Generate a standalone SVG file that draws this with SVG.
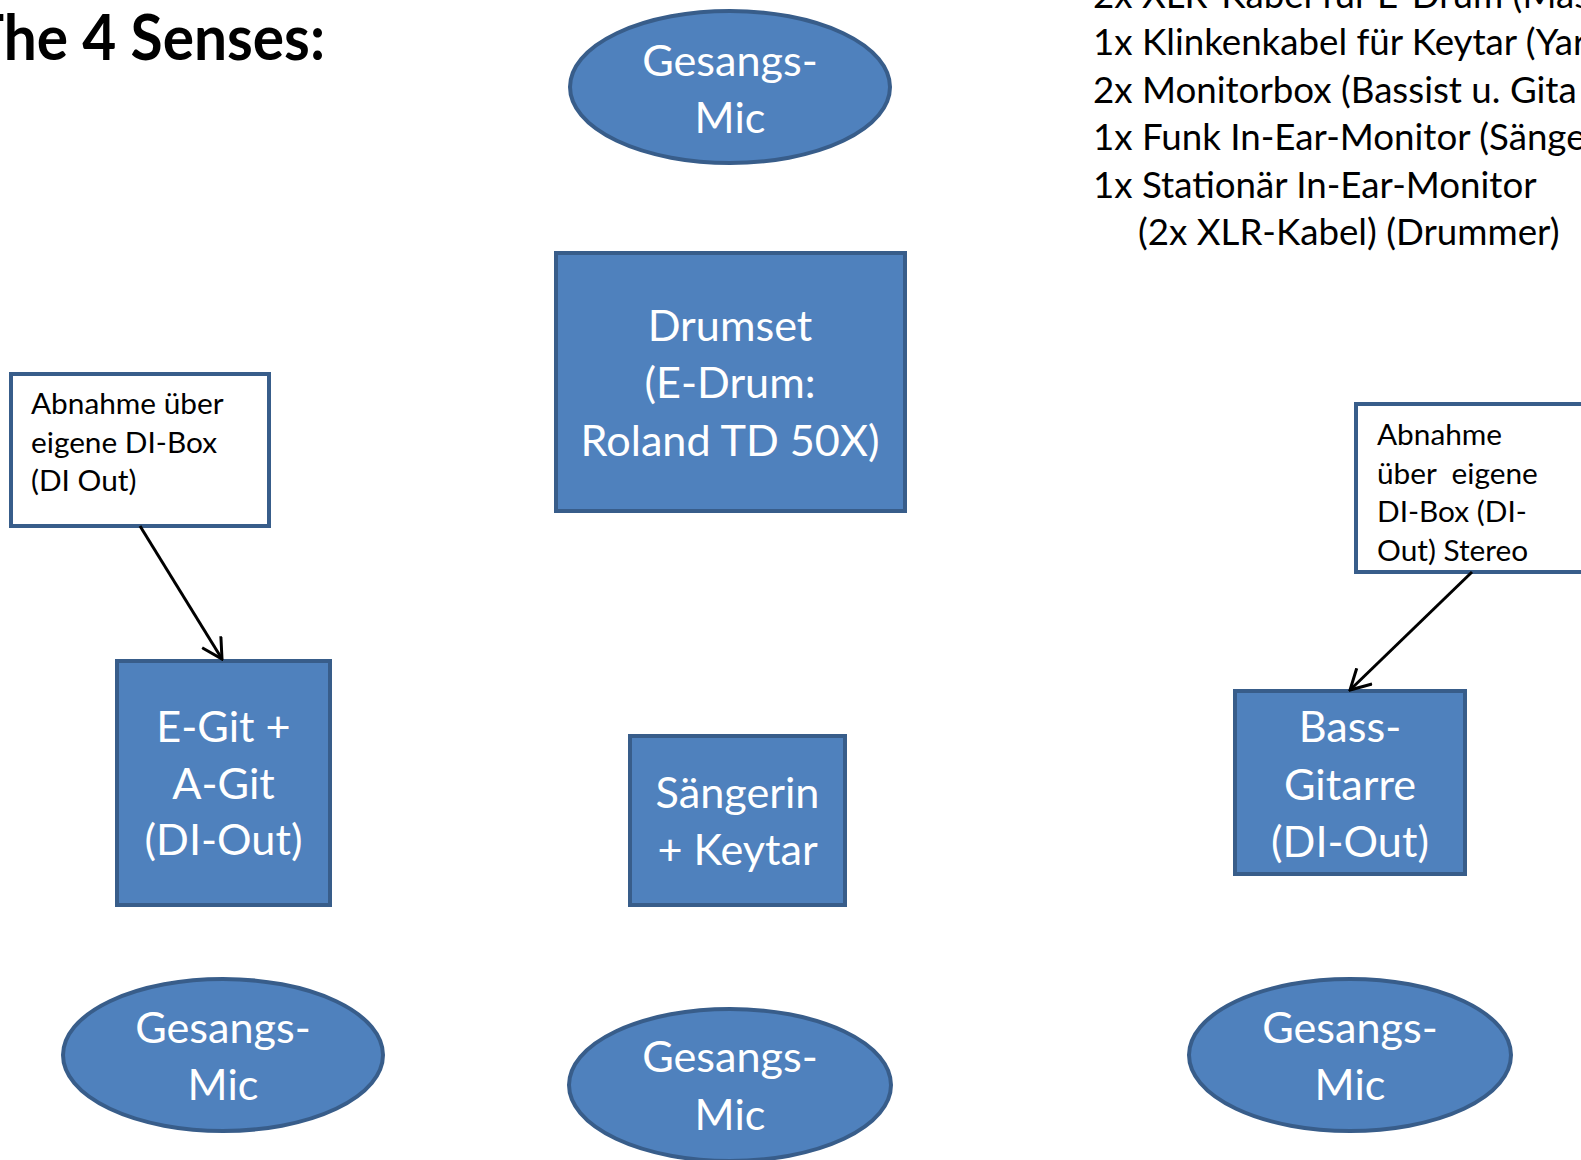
<svg xmlns="http://www.w3.org/2000/svg" width="1581" height="1160" viewBox="0 0 1581 1160">
<style>
.shape{fill:#4F81BD;stroke:#385D8A;stroke-width:4}
.call{fill:#FFFFFF;stroke:#385D8A;stroke-width:4}
.lbl{font-family:Lato,"Liberation Sans",sans-serif;font-size:43.2px;fill:#FFFFFF;text-anchor:middle}
.ct{font-family:Lato,"Liberation Sans",sans-serif;font-size:29.8px;fill:#000000}
.list{font-family:Lato,"Liberation Sans",sans-serif;font-size:36.7px;fill:#000000}
.title{font-family:Lato,"Liberation Sans",sans-serif;font-size:63px;font-weight:bold;fill:#000000}
.conn{stroke:#000000;stroke-width:3;fill:none}
</style>
<defs>
<marker id="arr" viewBox="0 0 24 24" refX="22" refY="12" markerWidth="24" markerHeight="24" markerUnits="userSpaceOnUse" orient="auto">
<path d="M2,1 L22,12 L2,23" fill="none" stroke="#000000" stroke-width="3"/>
</marker>
</defs>
<rect x="0" y="0" width="1581" height="1160" fill="#FFFFFF"/>
<g id="title">
<text class="title" x="-31" y="59.5" textLength="356" lengthAdjust="spacingAndGlyphs">The 4 Senses:</text>
</g>
<g id="equipment-list">
<text class="list" x="1093" y="8">2x XLR-Kabel für E-Drum (Mas</text>
<text class="list" x="1093" y="55">1x Klinkenkabel für Keytar (Yar</text>
<text class="list" x="1093" y="102.5">2x Monitorbox (Bassist u. Gita</text>
<text class="list" x="1093" y="150">1x Funk In-Ear-Monitor (Sänge</text>
<text class="list" x="1093" y="197.5">1x Stationär In-Ear-Monitor</text>
<text class="list" x="1138" y="245">(2x XLR-Kabel) (Drummer)</text>
</g>
<g id="mic-top">
<ellipse class="shape" cx="730" cy="87" rx="160" ry="76"/>
<text class="lbl" x="730" y="75.5">Gesangs-</text>
<text class="lbl" x="730" y="132.5">Mic</text>
</g>
<g id="drumset">
<rect class="shape" x="556" y="253" width="349" height="258"/>
<text class="lbl" x="730" y="340.5">Drumset</text>
<text class="lbl" x="730" y="397.5">(E-Drum:</text>
<text class="lbl" x="730" y="455.5">Roland TD 50X)</text>
</g>
<g id="callout-left">
<rect class="call" x="11" y="374" width="258" height="152"/>
<text class="ct" x="31" y="414">Abnahme über</text>
<text class="ct" x="31" y="453">eigene DI-Box</text>
<text class="ct" x="31" y="491">(DI Out)</text>
</g>
<g id="callout-right">
<rect class="call" x="1356" y="404" width="240" height="168"/>
<text class="ct" x="1377" y="445">Abnahme</text>
<text class="ct" x="1377" y="483.5" style="white-space:pre">über  eigene</text>
<text class="ct" x="1377" y="522">DI-Box (DI-</text>
<text class="ct" x="1377" y="560.5">Out) Stereo</text>
</g>
<g id="egit">
<rect class="shape" x="117" y="661" width="213" height="244"/>
<text class="lbl" x="223.5" y="741.5">E-Git +</text>
<text class="lbl" x="223.5" y="798.5">A-Git</text>
<text class="lbl" x="223.5" y="854.5">(DI-Out)</text>
</g>
<g id="saengerin">
<rect class="shape" x="630" y="736" width="215" height="169"/>
<text class="lbl" x="737.5" y="807.5">Sängerin</text>
<text class="lbl" x="737.5" y="864.5">+ Keytar</text>
</g>
<g id="bass">
<rect class="shape" x="1235" y="691" width="230" height="183"/>
<text class="lbl" x="1350" y="741.5">Bass-</text>
<text class="lbl" x="1350" y="799.5">Gitarre</text>
<text class="lbl" x="1350" y="856.5">(DI-Out)</text>
</g>
<g id="mic-left">
<ellipse class="shape" cx="223" cy="1055" rx="160" ry="76"/>
<text class="lbl" x="223" y="1042.5">Gesangs-</text>
<text class="lbl" x="223" y="1099.5">Mic</text>
</g>
<g id="mic-center">
<ellipse class="shape" cx="730" cy="1085" rx="161" ry="76"/>
<text class="lbl" x="730" y="1071.5">Gesangs-</text>
<text class="lbl" x="730" y="1129.5">Mic</text>
</g>
<g id="mic-right">
<ellipse class="shape" cx="1350" cy="1055" rx="161" ry="76"/>
<text class="lbl" x="1350" y="1042.5">Gesangs-</text>
<text class="lbl" x="1350" y="1099.5">Mic</text>
</g>
<g id="connectors">
<line class="conn" x1="140" y1="526" x2="222" y2="659" marker-end="url(#arr)"/>
<line class="conn" x1="1472" y1="572" x2="1350" y2="690" marker-end="url(#arr)"/>
</g>
</svg>
